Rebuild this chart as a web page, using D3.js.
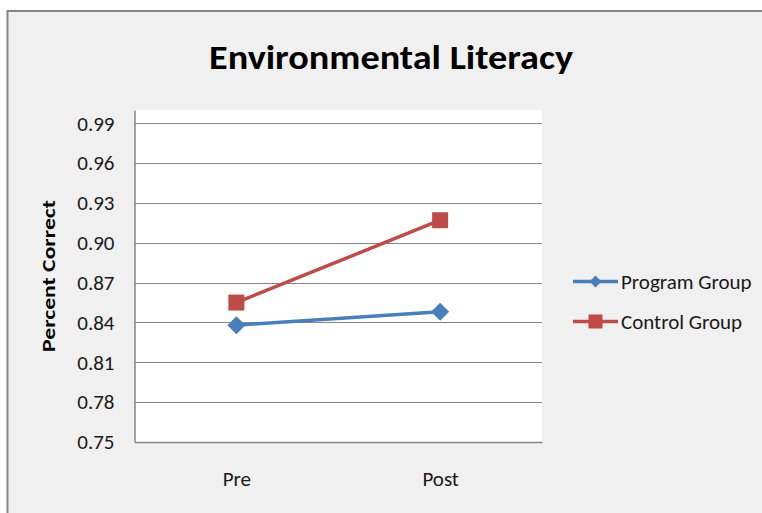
<!DOCTYPE html>
<html>
<head>
<meta charset="utf-8">
<script src="https://cdn.jsdelivr.net/npm/d3@7"></script>
<style>
  html, body { margin: 0; padding: 0; background: #ffffff; }
  svg { display: block; }
  text { font-family: Carlito, Calibri, Lato, "Open Sans", sans-serif; fill: #1a1a1a; }
</style>
</head>
<body>
<svg id="chart" width="762" height="513"></svg>
<script>
// Survey results: share of correct answers before and after the program
const categories = ["Pre", "Post"];
const programGroup = [0.838, 0.848];
const controlGroup = [0.855, 0.917];
const seriesNames = ["Program Group", "Control Group"];
const yTicks = [0.75, 0.78, 0.81, 0.84, 0.87, 0.90, 0.93, 0.96, 0.99];
const yDomain = [0.75, 1.0];

const svg = d3.select("#chart");
const W = 762, H = 513;

const plot = { left: 134.5, right: 542, top: 110, bottom: 442 };
const blue = "#4a7ebb", red = "#be4b48", grid = "#868686";
const labelFont = "Carlito, Calibri, Lato, sans-serif";

// Chart frame
svg.append("rect")
  .attr("x", 7.5).attr("y", 11)
  .attr("width", W).attr("height", H)
  .attr("fill", "#f0f0f0")
  .attr("stroke", grid).attr("stroke-width", 2);

// Title
svg.append("text")
  .attr("x", 391).attr("y", 69)
  .attr("text-anchor", "middle")
  .attr("font-size", 35).attr("font-weight", "bold")
  .attr("textLength", 364).attr("lengthAdjust", "spacingAndGlyphs")
  .style("fill", "#000")
  .text("Environmental Literacy");

const x = d3.scalePoint().domain(categories)
  .range([plot.left, plot.right]).padding(0.5);
const y = d3.scaleLinear().domain(yDomain)
  .range([plot.bottom, plot.top]);

// Plot area
svg.append("rect")
  .attr("x", plot.left).attr("y", plot.top)
  .attr("width", plot.right - plot.left).attr("height", plot.bottom - plot.top)
  .attr("fill", "#ffffff");

// Gridlines
svg.append("g").selectAll("line")
  .data(yTicks.filter(t => t > yDomain[0]))
  .join("line")
  .attr("x1", plot.left).attr("x2", plot.right)
  .attr("y1", d => Math.round(y(d)) + 0.5).attr("y2", d => Math.round(y(d)) + 0.5)
  .attr("stroke", grid).attr("stroke-width", 1);

// Y axis
const yAxis = d3.axisLeft(y).tickValues(yTicks)
  .tickFormat(d3.format(".2f")).tickSize(0).tickPadding(20);
const gy = svg.append("g")
  .attr("transform", `translate(${plot.left},0)`)
  .call(yAxis);
gy.select(".domain").attr("stroke", grid).attr("stroke-width", 1.5);
gy.selectAll("text")
  .attr("font-size", 21)
  .attr("font-family", labelFont)
  .style("fill", "#1a1a1a");

// X axis
const xAxis = d3.axisBottom(x).tickSize(0).tickPadding(29);
const gx = svg.append("g")
  .attr("transform", `translate(0,${plot.bottom})`)
  .call(xAxis);
gx.select(".domain").attr("stroke", grid).attr("stroke-width", 1.5);
gx.selectAll("text")
  .attr("font-size", 21)
  .attr("font-family", labelFont)
  .style("fill", "#1a1a1a");

// Y axis title
svg.append("text")
  .attr("transform", `translate(55,276) rotate(-90)`)
  .attr("text-anchor", "middle")
  .attr("font-size", 19).attr("font-weight", "bold")
  .attr("textLength", 152).attr("lengthAdjust", "spacingAndGlyphs")
  .style("fill", "#000")
  .text("Percent Correct");

// Series
const series = [
  { name: seriesNames[0], values: programGroup, color: blue, shape: "diamond" },
  { name: seriesNames[1], values: controlGroup, color: red, shape: "square" }
];

const line = d3.line()
  .x((d, i) => x(categories[i]))
  .y(d => y(d));

function drawMarker(g, shape, color, cx, cy, s) {
  if (shape === "square") {
    g.append("rect")
      .attr("x", cx - s / 2).attr("y", cy - s / 2)
      .attr("width", s).attr("height", s)
      .attr("fill", color);
  } else {
    const h = s / 2 + 1;
    g.append("path")
      .attr("d", `M${cx},${cy - h}L${cx + h},${cy}L${cx},${cy + h}L${cx - h},${cy}Z`)
      .attr("fill", color);
  }
}

series.forEach(s => {
  const g = svg.append("g");
  g.append("path")
    .datum(s.values)
    .attr("d", line)
    .attr("fill", "none")
    .attr("stroke", s.color)
    .attr("stroke-width", 3.5);
  s.values.forEach((v, i) => drawMarker(g, s.shape, s.color, x(categories[i]), y(v), 16));
});

// Legend
const legend = svg.append("g");
series.forEach((s, i) => {
  const ly = 281.5 + i * 40;
  const g = legend.append("g");
  g.append("line")
    .attr("x1", 573).attr("x2", 618)
    .attr("y1", ly).attr("y2", ly)
    .attr("stroke", s.color).attr("stroke-width", 3.5);
  drawMarker(g, s.shape, s.color, 595.5, ly, s.shape === "square" ? 14 : 10);
  g.append("text")
    .attr("x", 621).attr("y", ly)
    .attr("dy", "0.35em")
    .attr("font-size", 21)
    .text(s.name);
});
</script>
</body>
</html>
